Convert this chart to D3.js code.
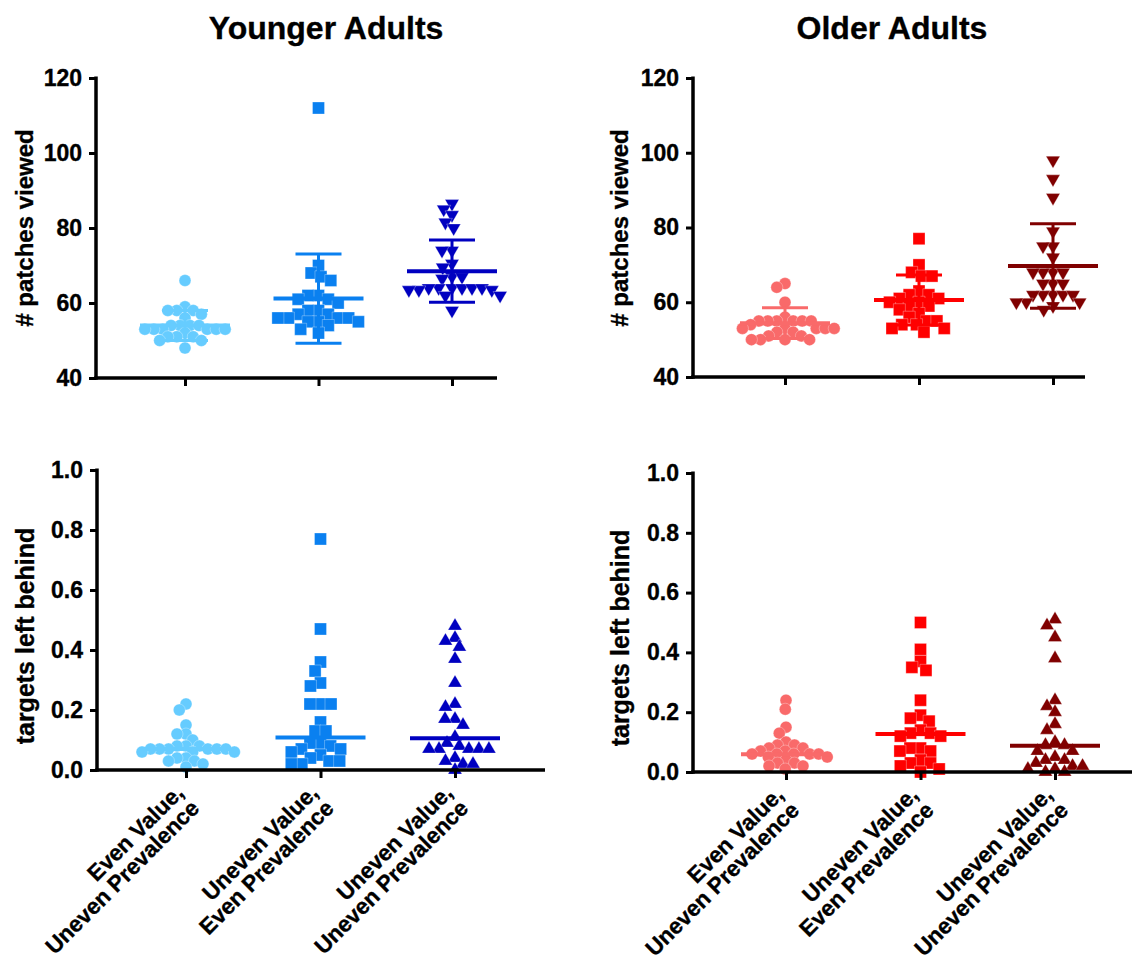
<!DOCTYPE html>
<html>
<head>
<meta charset="utf-8">
<script src="https://cdn.jsdelivr.net/npm/d3@7/dist/d3.min.js"></script>
<style>
  html, body { margin: 0; padding: 0; background: #fff; }
  svg { display: block; font-family: "Liberation Sans", Arial, Helvetica, sans-serif; }
</style>
</head>
<body>
<svg id="chart" width="1134" height="963"></svg>
<script>
// ---------------- DATA ----------------
const categories = ["EVUP", "UVEP", "UVUP"];
const categoryLabels = [
  ["Even Value,", "Uneven Prevalence"],
  ["Uneven Value,", "Even Prevalence"],
  ["Uneven Value,", "Uneven Prevalence"]
];
const titles = ["Younger Adults", "Older Adults"];
const yLabelPatches = "# patches viewed";
const yLabelTargets = "targets left behind";
const patchTicks = [40, 60, 80, 100, 120];
const targetTicks = [0, 0.2, 0.4, 0.6, 0.8, 1.0];

// Younger adults - # patches viewed
const youngPatchesEVUP = [66, 59, 58, 58, 58, 57, 56, 54, 54, 54, 54, 53, 53, 53, 53, 53, 53, 52, 51, 51, 51, 50, 50, 48];
const youngPatchesUVEP = [112, 70, 68, 67, 66, 62, 62, 61, 61, 60, 58, 58, 57, 57, 56, 56, 56, 56, 55, 55, 55, 54, 53, 52];
const youngPatchesUVUP = [86.5, 85, 83.5, 81.5, 80, 74, 74, 70.5, 69.5, 67, 67, 66.5, 64, 64, 64, 64, 64, 64, 63.5, 63.5, 63.5, 62, 62, 58];
const youngPatchesMean = [54.0, 61.2, 68.5];
const youngPatchesSD = [4.0, 11.9, 8.3];

// Older adults - # patches viewed
const oldPatchesEVUP = [65, 64, 60, 56, 55, 55, 55, 55, 55, 55, 54, 53, 53, 53, 53, 53, 52, 52, 51, 51, 50, 50, 50, 50];
const oldPatchesUVEP = [77, 70, 68, 67, 67, 63, 62, 62, 61, 61, 60, 60, 59, 59, 58, 57, 56, 55, 55, 54, 54, 53, 53, 52];
const oldPatchesUVUP = [98, 93, 88, 79, 75, 75, 72, 68, 68, 68, 68, 65, 65, 65, 62, 62, 62, 62, 62, 60, 60, 60, 59, 58];
const oldPatchesMean = [54.4, 60.6, 69.7];
const oldPatchesSD = [4.1, 6.7, 11.3];

// Younger adults - targets left behind
const youngTargetsEVUP = [0.22, 0.20, 0.15, 0.12, 0.12, 0.10, 0.08, 0.08, 0.08, 0.07, 0.07, 0.07, 0.07, 0.07, 0.07, 0.06, 0.06, 0.06, 0.04, 0.04, 0.03, 0.03, 0.02, 0.01];
const youngTargetsUVEP = [0.77, 0.47, 0.36, 0.33, 0.29, 0.28, 0.22, 0.22, 0.22, 0.16, 0.13, 0.13, 0.09, 0.09, 0.08, 0.07, 0.07, 0.06, 0.05, 0.04, 0.03, 0.03, 0.02, 0.02];
const youngTargetsUVUP = [0.48, 0.44, 0.43, 0.41, 0.37, 0.29, 0.22, 0.21, 0.17, 0.17, 0.15, 0.11, 0.09, 0.08, 0.07, 0.07, 0.07, 0.07, 0.07, 0.04, 0.03, 0.02, 0.02, 0.0];
const youngTargetsMedian = [0.07, 0.108, 0.106];

// Older adults - targets left behind
const oldTargetsEVUP = [0.24, 0.21, 0.15, 0.13, 0.10, 0.09, 0.09, 0.08, 0.08, 0.07, 0.07, 0.06, 0.06, 0.06, 0.06, 0.06, 0.05, 0.05, 0.04, 0.03, 0.03, 0.02, 0.02, 0.01];
const oldTargetsUVEP = [0.50, 0.41, 0.37, 0.35, 0.34, 0.24, 0.19, 0.18, 0.17, 0.14, 0.13, 0.13, 0.12, 0.12, 0.08, 0.08, 0.07, 0.07, 0.04, 0.03, 0.03, 0.02, 0.01, 0.0];
const oldTargetsUVUP = [0.51, 0.49, 0.45, 0.38, 0.24, 0.22, 0.20, 0.16, 0.14, 0.10, 0.09, 0.09, 0.07, 0.07, 0.05, 0.04, 0.04, 0.03, 0.02, 0.02, 0.01, 0.01, 0.0, 0.0];
const oldTargetsMedian = [0.059, 0.127, 0.088];

const youngColors = ["#66CCFF", "#0A80F0", "#0000C0"];
const oldColors = ["#F96A6A", "#FF0000", "#800000"];

// ---------------- LAYOUT ----------------
const svg = d3.select("#chart");
svg.append("rect").attr("width", 1134).attr("height", 963).attr("fill", "#fff");

const panels = [
  { series: [youngPatchesEVUP, youngPatchesUVEP, youngPatchesUVUP], center: youngPatchesMean, sd: youngPatchesSD,
    colors: youngColors, shapes: ["circle", "square", "tdown"], ticks: patchTicks, domain: [40, 120], fmt: d3.format("d"),
    ax: 96, top: 78, bottom: 378, xEnd: 497, first: 185, last: 452, ylabel: yLabelPatches, ylx: 25, yly: 228, ylfs: 24, xlabels: false },
  { series: [oldPatchesEVUP, oldPatchesUVEP, oldPatchesUVUP], center: oldPatchesMean, sd: oldPatchesSD,
    colors: oldColors, shapes: ["circle", "square", "tdown"], ticks: patchTicks, domain: [40, 120], fmt: d3.format("d"),
    ax: 693, top: 78, bottom: 377, xEnd: 1085, first: 785, last: 1053, ylabel: yLabelPatches, ylx: 620, yly: 228, ylfs: 24, xlabels: false },
  { series: [youngTargetsEVUP, youngTargetsUVEP, youngTargetsUVUP], center: youngTargetsMedian, sd: null,
    colors: youngColors, shapes: ["circle", "square", "tup"], ticks: targetTicks, domain: [0, 1], fmt: d3.format(".1f"),
    ax: 97, top: 470, bottom: 770, xEnd: 545, first: 186, last: 455, ylabel: yLabelTargets, ylx: 25, yly: 636, ylfs: 25, xlabels: true },
  { series: [oldTargetsEVUP, oldTargetsUVEP, oldTargetsUVUP], center: oldTargetsMedian, sd: null,
    colors: oldColors, shapes: ["circle", "square", "tup"], ticks: targetTicks, domain: [0, 1], fmt: d3.format(".1f"),
    ax: 693, top: 473, bottom: 772, xEnd: 1132, first: 786, last: 1055, ylabel: yLabelTargets, ylx: 620, yly: 638, ylfs: 25, xlabels: true }
];

const textStroke = 0.35;

// title text
svg.append("text").attr("x", 326).attr("y", 39).attr("text-anchor", "middle")
  .attr("font-size", 32).attr("font-weight", "bold").attr("stroke", "#000").attr("stroke-width", textStroke).text(titles[0]);
svg.append("text").attr("x", 892).attr("y", 39).attr("text-anchor", "middle")
  .attr("font-size", 32).attr("font-weight", "bold").attr("stroke", "#000").attr("stroke-width", textStroke).text(titles[1]);

function swarm(values, y, diam) {
  const placed = [];
  return values.map(v => {
    const py = y(v);
    const near = placed.filter(p => Math.abs(p.y - py) < diam);
    const cands = [0];
    near.forEach(p => {
      const dx = Math.sqrt(diam * diam - (p.y - py) ** 2);
      cands.push(p.x + dx, p.x - dx);
    });
    cands.sort((a, b) => Math.abs(a) - Math.abs(b) || a - b);
    const x = cands.find(c => near.every(p => (p.x - c) ** 2 + (p.y - py) ** 2 >= diam * diam - 1e-6));
    const pt = { v, x, y: py };
    placed.push(pt);
    return pt;
  });
}

const symbolGen = {
  circle: d3.symbol(d3.symbolCircle, Math.PI * 6 * 6),
  square: d3.symbol(d3.symbolSquare, 12 * 12),
  tdown: d3.symbol(d3.symbolTriangle, 85),
  tup: d3.symbol(d3.symbolTriangle, 85)
};
const swarmDiam = { circle: 9, square: 10.5, tdown: 10, tup: 10 };

panels.forEach(P => {
  const g = svg.append("g");
  const y = d3.scaleLinear().domain(P.domain).range([P.bottom, P.top]);
  const x = d3.scalePoint().domain(categories).range([P.first, P.last]);

  // points
  P.series.forEach((vals, i) => {
    const cx = x(categories[i]);
    const pts = swarm(vals, y, swarmDiam[P.shapes[i]]);
    g.append("g").selectAll("path").data(pts).join("path")
      .attr("d", symbolGen[P.shapes[i]])
      .attr("transform", d => `translate(${cx + d.x},${d.y})` + (P.shapes[i] === "tdown" ? " rotate(180)" : ""))
      .attr("fill", P.colors[i])
      .attr("stroke", "#fff").attr("stroke-width", 0.5).attr("stroke-opacity", 0.6);
  });

  // mean / median lines and SD bars
  P.center.forEach((c, i) => {
    const cx = x(categories[i]);
    const col = P.colors[i];
    if (P.sd) {
      const hi = c + P.sd[i], lo = c - P.sd[i];
      g.append("line").attr("x1", cx).attr("x2", cx).attr("y1", y(hi)).attr("y2", y(lo))
        .attr("stroke", col).attr("stroke-width", 3);
      [hi, lo].forEach(v => g.append("line").attr("x1", cx - 23).attr("x2", cx + 23)
        .attr("y1", y(v)).attr("y2", y(v)).attr("stroke", col).attr("stroke-width", 3));
    }
    g.append("line").attr("x1", cx - 45).attr("x2", cx + 45).attr("y1", y(c)).attr("y2", y(c))
      .attr("stroke", col).attr("stroke-width", 4);
  });

  // y axis
  const yAxis = g.append("g").attr("transform", `translate(${P.ax},0)`)
    .call(d3.axisLeft(y).tickValues(P.ticks).tickFormat(P.fmt).tickSize(7).tickPadding(7).tickSizeOuter(0));
  yAxis.select(".domain").attr("stroke-width", 3.5).attr("d", `M0,${P.top - 1.5}V${P.bottom + 1.75}`);
  yAxis.selectAll(".tick line").attr("stroke-width", 3);
  yAxis.selectAll(".tick text").attr("font-size", 23).attr("font-weight", "bold")
    .attr("font-family", "'Liberation Sans', Arial, sans-serif").attr("fill", "#000")
    .attr("stroke", "#000").attr("stroke-width", textStroke);

  // x axis
  const xAxis = g.append("g").attr("transform", `translate(0,${P.bottom})`)
    .call(d3.axisBottom(x).tickSize(8).tickSizeOuter(0).tickFormat(""));
  xAxis.select(".domain").attr("stroke-width", 3.5).attr("d", `M${P.ax - 1.75},0H${P.xEnd}`);
  xAxis.selectAll(".tick line").attr("stroke-width", 3);

  // x category labels
  if (P.xlabels) {
    categories.forEach((c, i) => {
      const t = g.append("text")
        .attr("transform", `translate(${x(c) - 1},${P.bottom + 24}) rotate(-45)`)
        .attr("text-anchor", "end").attr("font-size", 22.5).attr("font-weight", "bold")
        .attr("stroke", "#000").attr("stroke-width", textStroke);
      categoryLabels[i].forEach((line, k) => {
        t.append("tspan").attr("x", 0).attr("dy", k === 0 ? 0 : 22).text(line);
      });
    });
  }

  // y label
  g.append("text")
    .attr("transform", `translate(${P.ylx},${P.yly}) rotate(-90)`)
    .attr("text-anchor", "middle").attr("dy", "0.35em")
    .attr("font-size", P.ylfs).attr("font-weight", "bold")
    .attr("stroke", "#000").attr("stroke-width", textStroke).text(P.ylabel);
});
</script>
</body>
</html>
